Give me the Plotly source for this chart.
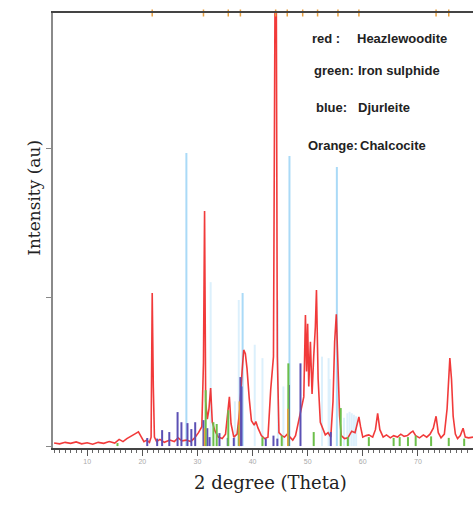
import plotly.graph_objects as go

# ---- data ----
red_x = [4, 5, 6, 7, 8, 9, 10, 11, 12, 13, 14, 15, 15.8, 16.5, 17.2, 18.0, 18.6, 19.3, 19.8, 20.3,
         20.8, 21.3, 21.6, 21.8, 22.0, 22.2, 22.6, 23.2, 24.0, 25.0, 25.8, 26.5, 27.2, 28.0, 28.8,
         29.5, 30.2, 30.8, 31.1, 31.3, 31.5, 31.8, 32.1, 32.4, 32.7, 33.2, 33.8, 34.5, 35.1, 35.5,
         35.8, 36.1, 36.6, 37.2, 37.7, 38.1, 38.4, 38.7, 39.0, 39.4, 39.8, 40.3, 40.6, 41.0, 41.6,
         42.2, 42.8, 43.3, 43.8, 44.1, 44.3, 44.5, 44.8, 45.3, 45.8, 46.3, 46.8, 47.3, 47.8, 48.3,
         48.8, 49.3, 49.6, 49.8, 50.0, 50.2, 50.5, 50.8, 51.1, 51.4, 51.6, 51.9, 52.3, 52.7, 53.2,
         53.7, 54.2, 54.6, 54.9, 55.2, 55.5, 55.8, 56.1, 56.7, 57.3, 58.0, 58.6, 59.0, 59.3, 59.6,
         60.0, 60.6, 61.1, 61.8, 62.3, 62.7, 63.1, 63.7, 64.3, 65.0, 65.6, 66.3, 66.9, 67.5, 68.1,
         68.7, 69.1, 69.6, 70.3, 71.0, 71.6, 72.2, 72.8, 73.3, 73.7, 74.2, 74.8, 75.3, 75.6, 75.8,
         76.1, 76.4, 76.8, 77.2, 77.7, 78.2, 78.6, 79.2, 80]
red_y = [20, 15, 25, 18, 28, 15, 22, 12, 25, 18, 30, 20, 45, 30, 50, 65, 80, 95, 60, 30,
         40, 25, 60, 1027, 400, 60, 30, 45, 25, 40, 30, 55, 35, 40, 30,
         55, 90, 130, 560, 1577, 300, 180, 250, 390, 160, 100, 60, 50, 80, 200,
         330, 150, 60, 80, 250, 500, 645, 620, 520, 320, 170, 140, 165, 120, 70,
         50, 60, 380, 600, 3200, 3200, 600, 90, 70, 60, 80, 60, 40, 70, 150,
         240, 330, 880, 500, 820, 400, 700, 350, 600, 800, 1047, 450, 160, 125, 75,
         90, 60, 300, 700, 885, 600, 200, 70, 50, 55, 100, 90, 150, 195, 130,
         60, 70, 75, 60, 110, 220, 110, 60, 75, 55, 70, 60, 80, 65, 70,
         90, 100, 70, 55, 75, 60, 80, 120, 200, 90, 55, 80, 250, 500, 590,
         450, 200, 80, 50, 70, 120, 60, 55, 60]

djur_strong_x = [28.0, 46.7, 55.3, 38.2]
djur_strong_h = [1966, 1946, 1872, 1027]
djur_faint_x = [32.4, 37.5, 40.4, 41.8, 44.6, 45.6, 36.8, 52.6, 53.8, 54.0, 56.6, 57.2, 57.6, 58.0, 58.4, 58.8]
djur_faint_h = [1100, 980, 680, 590, 980, 400, 300, 600, 590, 450, 190, 220, 230, 220, 210, 200]

dark_x = [20.9, 22.7, 23.6, 24.9, 26.4, 27.1, 28.2, 28.9, 29.6, 31.1, 31.8, 32.2, 34.0, 35.5, 36.6,
          37.8, 38.0, 42.4, 43.8, 44.5, 46.6, 48.7, 54.2]
dark_h = [54, 50, 107, 94, 228, 160, 154, 114, 160, 174, 120, 60, 87, 55, 55,
          463, 400, 50, 70, 50, 410, 555, 94]

green_x = [15.5, 31.5, 32.9, 33.5, 35.6, 37.5, 41.8, 45.3, 46.5, 51.1, 56.0, 57.3, 61.1, 65.6,
           66.7, 68.2, 69.6, 72.4, 75.6, 78.4]
green_h = [20, 375, 160, 148, 240, 140, 60, 70, 555, 94, 255, 60, 60, 55,
           60, 60, 70, 65, 55, 50]

orange_x = [31.3, 37.6, 46.4]
orange_h = [120, 300, 250]
orange_top_x = [21.8, 31.1, 35.6, 37.8, 44.2, 46.3, 49.1, 51.8, 55.5, 59.3, 73.3, 75.6]

x_ticks = [10, 20, 30, 40, 50, 60, 70]
y_ticks = [0, 1000, 2000]
Y_TOP = 2906


def sticks(xs, hs):
    X, Y = [], []
    for x, h in zip(xs, hs):
        X += [x, x, None]
        Y += [0, h, None]
    return X, Y


fig = go.Figure()

fx, fy = sticks(djur_faint_x, djur_faint_h)
fig.add_trace(go.Scatter(x=fx, y=fy, mode="lines", line=dict(color="#dcf0fc", width=2), hoverinfo="skip"))
sx, sy = sticks(djur_strong_x, djur_strong_h)
fig.add_trace(go.Scatter(x=sx, y=sy, mode="lines", line=dict(color="#aadaf7", width=2), hoverinfo="skip"))

fig.add_trace(go.Scatter(x=red_x, y=red_y, mode="lines",
                         line=dict(color="rgba(238,24,24,0.85)", width=1.6), hoverinfo="skip"))

dx, dy = sticks(dark_x, dark_h)
fig.add_trace(go.Scatter(x=dx, y=dy, mode="lines", line=dict(color="#5b50b4", width=2), hoverinfo="skip"))
gx, gy = sticks(green_x, green_h)
fig.add_trace(go.Scatter(x=gx, y=gy, mode="lines", line=dict(color="#6cbf4a", width=2), hoverinfo="skip"))
ox, oy = sticks(orange_x, orange_h)
fig.add_trace(go.Scatter(x=ox, y=oy, mode="lines", line=dict(color="#e8a040", width=1.5), hoverinfo="skip"))

fig.add_trace(go.Scatter(x=orange_top_x, y=[Y_TOP] * len(orange_top_x), mode="markers",
                         marker=dict(symbol="line-ns", size=5, line=dict(color="#e8a040", width=1.5)),
                         cliponaxis=False, hoverinfo="skip"))

fig.update_layout(
    width=473, height=508,
    margin=dict(l=53, r=0, t=13, b=60),
    paper_bgcolor="white", plot_bgcolor="white",
    showlegend=False,
    xaxis=dict(range=[3.8, 80], tickvals=x_ticks, ticks="outside", ticklen=6, tickcolor="#555",
               showgrid=False, zeroline=False, showline=True, linecolor="#444", linewidth=2,
               mirror=True,
               tickfont=dict(size=7, color="#aaaaaa", family="Liberation Sans"),
               minor=dict(dtick=1, ticks="outside", ticklen=3, tickcolor="#666")),
    yaxis=dict(range=[-13, Y_TOP], tickvals=y_ticks, ticks="outside", ticklen=5, tickcolor="#888",
               showticklabels=False, showgrid=False, zeroline=False, showline=True,
               linecolor="#8a8a8a", linewidth=2),
)

# axis titles
fig.add_annotation(text="2 degree (Theta)", xref="paper", yref="paper", x=0.519, y=-0.108,
                   showarrow=False, font=dict(family="DejaVu Serif", size=18, color="#222"))
fig.add_annotation(text="Intensity (au)", xref="paper", yref="paper", x=-0.074, y=0.575,
                   textangle=-90, showarrow=False, font=dict(family="DejaVu Serif", size=17, color="#222"))

# legend text
labels = ["red :", "green:", "blue:", "Orange:"]
names = ["Heazlewoodite", "Iron sulphide", "Djurleite", "Chalcocite"]
label_end_px = [341, 355, 348, 359]
name_px = [356, 357, 357, 359]
row_py = [39, 70, 107, 145]
lf = dict(family="Liberation Sans", size=13, color="#222")
for lab, nm, lx, nx, py in zip(labels, names, label_end_px, name_px, row_py):
    yp = (448 - py) / 435
    fig.add_annotation(text="<b>%s</b>" % lab, xref="paper", yref="paper", x=(lx - 53) / 420, y=yp,
                       xanchor="right", yanchor="middle", showarrow=False, font=lf,
                       xshift=0, borderpad=0)
    fig.add_annotation(text="<b>%s</b>" % nm, xref="paper", yref="paper", x=(nx - 53) / 420, y=yp,
                       xanchor="left", yanchor="middle", showarrow=False, font=lf, borderpad=0)

fig.write_html("out.html")
